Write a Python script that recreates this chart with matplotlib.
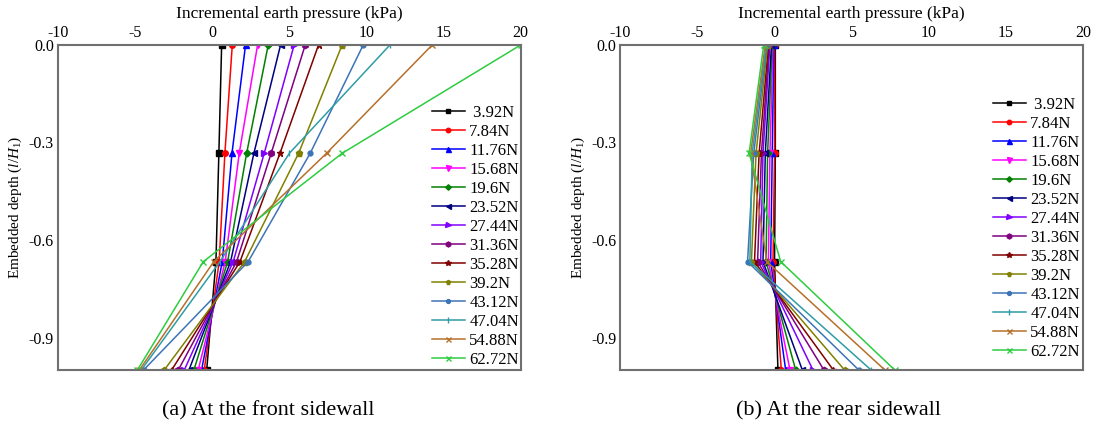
import matplotlib
matplotlib.use('Agg')
import matplotlib.pyplot as plt

plt.rcParams['font.family'] = ['Liberation Serif', 'DejaVu Serif']
plt.rcParams['mathtext.fontset'] = 'custom'
plt.rcParams['mathtext.rm'] = 'Liberation Serif'
plt.rcParams['mathtext.it'] = 'Liberation Serif:italic'

depth = [0.0, -1/3, -2/3, -1.0]

loads = [' 3.92N', '7.84N', '11.76N', '15.68N', '19.6N', '23.52N', '27.44N',
         '31.36N', '35.28N', '39.2N', '43.12N', '47.04N', '54.88N', '62.72N']

# incremental earth pressure (kPa) at each depth, front sidewall
front = [
    [0.61, 0.43, 0.24, -0.36],
    [1.30, 0.82, 0.45, -0.52],
    [2.16, 1.28, 0.65, -0.69],
    [2.94, 1.75, 0.84, -0.91],
    [3.63, 2.23, 1.00, -1.19],
    [4.43, 2.70, 1.19, -1.51],
    [5.31, 3.37, 1.36, -1.81],
    [6.03, 3.82, 1.58, -2.20],
    [6.89, 4.39, 1.80, -2.63],
    [8.42, 5.60, 2.10, -3.11],
    [9.79, 6.35, 2.33, -4.45],
    [11.52, 5.00, 0.50, -4.60],
    [14.26, 7.41, 0.10, -4.72],
    [20.00, 8.42, -0.58, -4.85],
]

# rear sidewall
rear = [
    [0.05, 0.05, 0.00, 0.22],
    [0.00, 0.00, -0.10, 0.44],
    [-0.05, -0.15, -0.25, 0.72],
    [-0.10, -0.30, -0.40, 1.00],
    [-0.15, -0.45, -0.55, 1.37],
    [-0.20, -0.60, -0.75, 1.80],
    [-0.30, -0.75, -0.90, 2.49],
    [-0.35, -0.85, -1.10, 3.20],
    [-0.40, -1.00, -1.30, 3.81],
    [-0.45, -1.20, -1.50, 4.54],
    [-0.50, -1.35, -1.75, 5.46],
    [-0.55, -1.45, -1.60, 6.26],
    [-0.60, -1.55, -0.50, 7.15],
    [-0.70, -1.65, 0.40, 7.79],
]

colors = ['black', 'red', 'blue', 'magenta', 'green', 'navy', '#8000ff',
          'purple', '#800000', '#808000', '#3d74b8', '#2e9da6', '#b5702a', '#2ecc40']
markers = ['s', 'o', '^', 'v', 'D', '<', '>', 'h', '*', 'p', 'o', '|', 'x', 'x']
msizes = [4, 4, 4.5, 4.5, 3.5, 4.5, 4.5, 4.5, 5, 4.5, 3.5, 5, 4.5, 4.5]

fig = plt.figure(figsize=(10.94, 4.32), dpi=100)
ax1 = fig.add_axes([0.053, 0.1435, 0.423, 0.7525])
ax2 = fig.add_axes([0.567, 0.1435, 0.423, 0.7525])

def draw(ax, data, leg_top, leg_right):
    for i in range(len(data)):
        ax.plot(data[i], depth, color=colors[i], marker=markers[i], ms=msizes[i],
                lw=1.1, label=loads[i])
    ax.set_xlim(-10, 20)
    ax.set_ylim(-1.0, 0.0)
    ax.set_xticks([-10, -5, 0, 5, 10, 15, 20])
    ax.set_xticklabels(['-10', '-5', '0', '5', '10', '15', '20'])
    ax.set_yticks([0.0, -0.3, -0.6, -0.9])
    ax.set_yticklabels(['0.0', '-0.3', '-0.6', '-0.9'])
    ax.xaxis.tick_top()
    ax.xaxis.set_label_position('top')
    ax.tick_params(length=0, labelsize=11.5, pad=3)
    ax.set_xlabel('Incremental earth pressure (kPa)', fontsize=12.5, labelpad=5)
    ax.set_ylabel(r'Embedded depth ($\mathit{l/H}_1$)', fontsize=11, labelpad=3)
    for s in ax.spines.values():
        s.set_color('#707070')
        s.set_linewidth(1.5)
    leg = ax.legend(loc='upper right', bbox_to_anchor=(leg_right, leg_top), fontsize=12,
                    frameon=True, fancybox=False, edgecolor='white', framealpha=1,
                    labelspacing=0.18, handlelength=2.0, handletextpad=0.25,
                    borderaxespad=0.0, borderpad=0.1, markerscale=0.8)
    leg.set_zorder(2.4)

draw(ax1, front, 0.821, 1.0)
draw(ax2, rear, 0.846, 0.997)

fig.text(0.245, 0.05, '(a) At the front sidewall', ha='center', va='center', fontsize=16)
fig.text(0.766, 0.05, '(b) At the rear sidewall', ha='center', va='center', fontsize=16)

fig.savefig('out.png', dpi=100)
